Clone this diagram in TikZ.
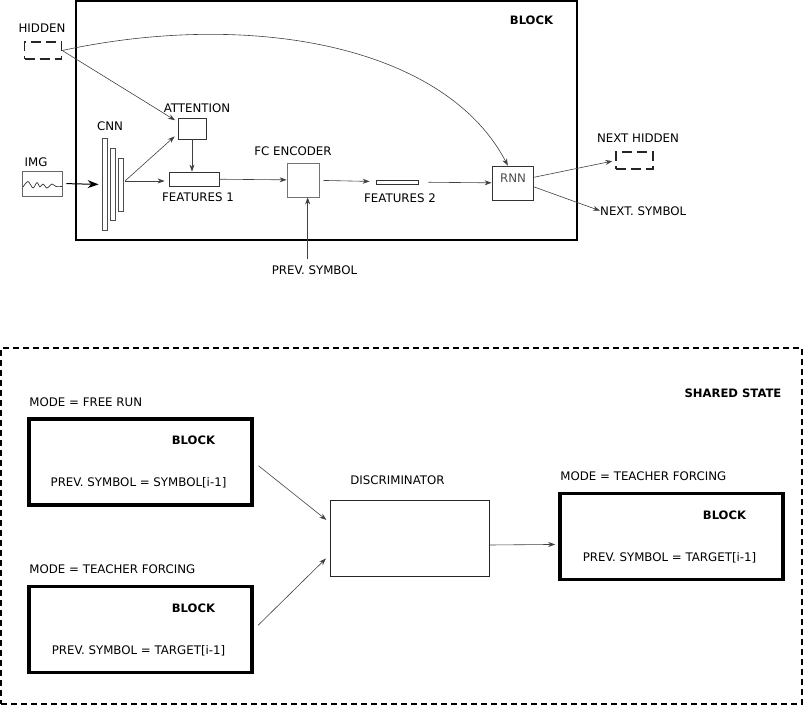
\documentclass[tikz,border=0pt]{standalone}
\usepackage{fontspec}
\setmainfont{DejaVu Sans}
\usetikzlibrary{arrows.meta,positioning}
\tikzset{
  box/.style={draw=black!80,line width=0.8pt,inner sep=0pt},
  heavybox/.style={draw=black,line width=3.6pt,inner sep=0pt,minimum width=223pt,minimum height=86pt},
  hiddenbox/.style={draw=black!85,line width=1.4pt,dash pattern=on 10pt off 5pt,inner sep=0pt,minimum width=37pt,minimum height=17pt},
  bar/.style={draw=black!70,line width=0.8pt,inner sep=0pt,minimum width=5pt},
  link/.style={->,draw=black!75,line width=0.6pt},
  txt/.style={inner sep=0pt,anchor=base,font=\fontsize{11.8}{14}\selectfont},
  ltxt/.style={txt,anchor=base west},
  btxt/.style={txt,font=\fontsize{11.6}{13}\selectfont\bfseries}
}
\begin{document}
\begin{tikzpicture}[>={Stealth[length=7pt,width=5pt]},x=1pt,y=-1pt]
\useasboundingbox (0,0) rectangle (804,706);
% upper part: one block
\node[box,draw=black,line width=1.2pt,minimum width=501pt,minimum height=239pt] (block) at (326.5,120.5) {};
\node[btxt] (blocktitle) at (531.5,25) {BLOCK};

\node[hiddenbox] (hidden) at (43,50.5) {};
\node[txt] (hiddentitle) at (42,33) {HIDDEN};
\node[box,draw=black!60,minimum width=40pt,minimum height=25pt] (img) at (42,183.5) {};
\node[txt] (imgtitle) at (36,167) {IMG};
\draw[black!80,line width=0.7pt] plot[smooth] coordinates {(23,187) (28,181.5) (33,188) (37,182.5) (40,187) (43,184) (47,188) (52,184) (56,186.5) (62,186.5)};

\foreach \n/\x/\h in {1/104.5/92,2/112.5/72,3/120.5/53}
  \node[bar,minimum height={\h pt}] (cnn\n) at (\x,184.5) {};
\node[txt] (cnntitle) at (110,131) {CNN};
\coordinate (cnnout) at (125,181);

\node[box,minimum width=28pt,minimum height=21pt] (attention) at (192,128.5) {};
\node[txt] (atttitle) at (197,113) {ATTENTION};
\node[box,minimum width=50pt,minimum height=14pt] (feat1) at (194,179) {};
\node[txt] (feat1title) at (198,202) {FEATURES 1};
\node[box,draw=black!55,minimum width=32pt,minimum height=34pt] (fc) at (303,180) {};
\node[txt] (fctitle) at (293,156) {FC ENCODER};
\node[txt] (prev) at (314.5,274) {PREV. SYMBOL};
\node[box,minimum width=42pt,minimum height=4pt] (feat2) at (397,182) {};
\node[txt] (feat2title) at (400,203) {FEATURES 2};
\node[box,minimum width=41pt,minimum height=34pt] (rnn) at (512.5,183) {};
\node[txt,text=black!70] (rnntitle) at (513,183) {RNN};
\node[hiddenbox] (nexthidden) at (634.5,160.5) {};
\node[txt] (nexthiddentitle) at (638,143) {NEXT HIDDEN};
\node[ltxt] (nextsym) at (600,215) {NEXT. SYMBOL};

\draw[link] (hidden.east) .. controls (250,10) and (445,45) .. (rnn.105);
\draw[link,shorten >=3pt] (hidden.east) -- (attention.155);
\draw[->,>={Stealth[length=11pt,width=8pt]},line width=1pt,shorten <=4pt,shorten >=3pt] (img.east) -- (cnn1.west);
\draw[link,shorten >=4pt] (cnnout) -- (attention.200);
\draw[link,shorten >=4pt] (cnnout) -- (cnnout -| feat1.west);
\draw[link] (attention) -- (attention |- feat1.north);
\draw[link] (feat1) -- (fc);
\draw[link,shorten <=4pt,shorten >=6pt] (fc) -- (feat2);
\draw[link,shorten <=10pt] (feat2) -- (rnn);
\draw[link] ([yshift=6pt]prev.north -| fc.285) -- (fc.285);
\draw[link,shorten >=3pt] (rnn.15) -- (nexthidden.west);
\draw[link] (rnn.-10) -- (nextsym.west);

% lower part: shared state
\node[draw,line width=1.4pt,dash pattern=on 6pt off 4pt,inner sep=0pt,minimum width=801pt,minimum height=356pt] (shared) at (401.5,526) {};
\node[btxt] (sharedtitle) at (733,397) {SHARED STATE};

\foreach \name/\x/\y/\mode/\sym in {free/140.5/462/FREE RUN/SYMBOL,teachA/140.5/629.5/TEACHER FORCING/TARGET,teachB/671.5/536.5/TEACHER FORCING/TARGET}{
  \node[heavybox] (\name) at (\x,\y) {};
  \node[ltxt] at ([xshift=2pt,yshift=11pt]\name.north west) {MODE = \mode};
  \node[btxt] at ([xshift=53pt,yshift=17.5pt]\name.center) {BLOCK};
  \node[txt] at ([xshift=-2pt,yshift=-24.5pt]\name.center) {PREV. SYMBOL = \sym[i-1]};
}

\node[box,draw=black!85,line width=1pt,minimum width=159pt,minimum height=76pt] (disc) at (409.5,538) {};
\node[txt] (disctitle) at (397.5,484) {DISCRIMINATOR};

\draw[link,shorten <=6pt,shorten >=4pt] (free.east) -- (disc.169);
\draw[link,shorten <=6pt,shorten >=5pt] (teachA.east) -- (disc.192);
\draw[link,shorten >=3pt] (disc.-5) -- (teachB.184);
\end{tikzpicture}
\end{document}
